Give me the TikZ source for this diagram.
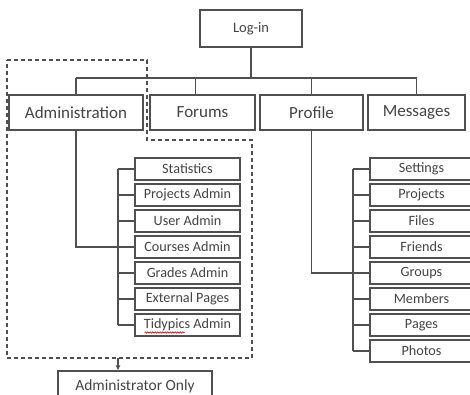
\documentclass[tikz,border=0pt]{standalone}
\usepackage{fontspec}
\setmainfont{Carlito}
\usetikzlibrary{arrows.meta,decorations.pathmorphing}
\definecolor{ln}{HTML}{505050}
\definecolor{tx}{HTML}{444444}
\tikzset{
  box/.style={draw=ln, line width=1.1pt, fill=white, text=tx, inner sep=0pt, align=center},
  topbox/.style={box, minimum height=35pt, font=\fontsize{17}{19}\selectfont},
  subbox/.style={box, minimum height=22pt, font=\fontsize{14.2}{16}\selectfont},
  conn/.style={draw=ln, line width=1.1pt},
  dashbox/.style={draw=ln, line width=1.1pt, dash pattern=on 4pt off 3pt}
}
\begin{document}
\begin{tikzpicture}[x=1pt,y=1pt]
\useasboundingbox (0,0) rectangle (470,-395);
\clip (0,0) rectangle (470,-395);
\fill[white] (0,0) rectangle (470,-395);

% top
\node[box, minimum width=102pt, minimum height=37pt, font=\fontsize{14.5}{16}\selectfont] (login) at (251,-28.5) {Log-in};
\node[topbox, minimum width=134pt] (adm) at (76,-112.5) {Administration};
\node[topbox, minimum width=105pt] (forums) at (202.5,-112.5) {Forums};
\node[topbox, minimum width=103pt] (prof) at (311.5,-112.5) {Profile};
\node[topbox, minimum width=97pt] (msg) at (416.5,-112.5) {Messages};

\coordinate (bus) at (251,-78);
\draw[conn] (login.south) -- (bus);
\draw[conn] (bus -| adm.north) -- (bus -| msg.north);
\draw[conn] (bus -| adm.north) -- (adm.north);
\draw[conn] ([xshift=-7pt]bus -| forums.north) -- ([xshift=-7pt]forums.north);
\draw[conn] (bus -| prof.north) -- (prof.north);
\draw[conn] (bus -| msg.north) -- (msg.north);

% admin sub-boxes
\foreach \n/\t [count=\i from 0] in {a1/Statistics,a2/Projects Admin,a3/User Admin,a4/Courses Admin,a5/Grades Admin,a6/External Pages,a7/Tidypics Admin}{
  \node[subbox, minimum width=105pt] (\n) at (187.5,{-169-26*\i}) {\t};
}
\coordinate (aspine) at (118,0);
\draw[conn] (a1.west -| aspine) -- (a7.west -| aspine);
\foreach \n in {a1,a2,a3,a4,a5,a6,a7}{
  \draw[conn] (\n.west -| aspine) -- (\n.west);
}
\draw[conn] (adm.south) |- (a4.west);
% spell-check squiggle under "Tidypics"
\draw[red!80!black, line width=0.6pt, decorate, decoration={snake, amplitude=0.7pt, segment length=2.5pt}]
  ([xshift=-43pt,yshift=-7.5pt]a7.center) -- ([xshift=-3pt,yshift=-7.5pt]a7.center);

% profile sub-boxes
\foreach \n/\t [count=\i from 0] in {p1/Settings,p2/Projects,p3/Files,p4/Friends,p5/Groups,p6/Members,p7/Pages,p8/Photos}{
  \node[subbox, minimum width=110pt] (\n) at (425,{-169-26*\i}) {\hspace*{-7pt}\t};
}
\coordinate (pspine) at (353,0);
\draw[conn] (p1.west -| pspine) -- (p8.west -| pspine);
\foreach \n in {p1,p2,p3,p4,p5,p6,p7,p8}{
  \draw[conn] (\n.west -| pspine) -- (\n.west);
}
\draw[conn] (prof.south) |- (p5.west);

% admin-only region
\draw[dashbox] (7,-60) -- (147,-60) -- (147,-140) -- (252,-140) -- (252,-358) -- (7,-358) -- cycle;
\node[box, minimum width=154pt, minimum height=30pt, font=\fontsize{15.5}{17}\selectfont] (only) at (135,-386) {\raisebox{2pt}{Administrator Only}};
\coordinate (dashbottom) at (118,-358);
\draw[conn, -{Latex[length=5pt,width=5pt]}] (dashbottom) -- (dashbottom |- only.north);
\end{tikzpicture}
\end{document}
